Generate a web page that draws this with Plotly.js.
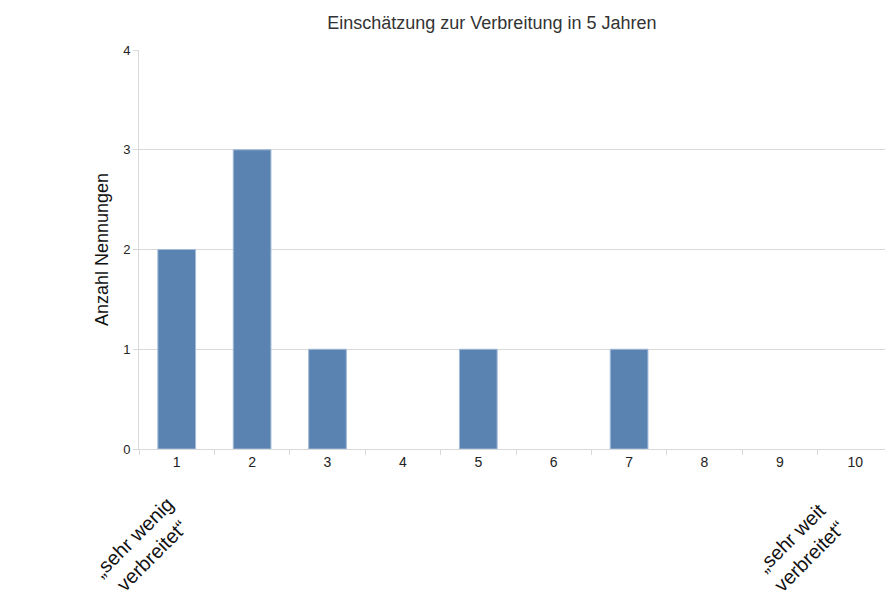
<!DOCTYPE html>
<html>
<head>
<meta charset="utf-8">
<script src="https://cdn.plot.ly/plotly-3.0.1.min.js"></script>
<style>
html,body{margin:0;padding:0;overflow:hidden;background:#fff;}
#chart{width:900px;height:597px;}
</style>
</head>
<body>
<div id="chart"></div>
<script>
const categories = ["1","2","3","4","5","6","7","8","9","10"];
const counts = [2,3,1,0,1,0,1,0,0,0];
const chartTitle = "Einschätzung zur Verbreitung in 5 Jahren";
const yTitle = "Anzahl Nennungen";
const lowLabel = "„sehr wenig<br>verbreitet“";
const highLabel = "„sehr weit<br>verbreitet“";

const font = "Liberation Sans, Arial, sans-serif";

const trace = {
  type: "bar",
  x: categories,
  y: counts,
  width: 0.5,
  marker: {color: "#5b83b1", line: {color: "#a3bbd8", width: counts.map(v => v > 0 ? 1 : 0)}},
  hoverinfo: "skip"
};

const layout = {
  width: 900,
  height: 597,
  margin: {l: 139, r: 7, t: 50, b: 148},
  paper_bgcolor: "#fff",
  plot_bgcolor: "#fff",
  showlegend: false,
  font: {family: font, color: "#222", size: 13},
  title: {
    text: chartTitle,
    font: {family: font, size: 18, color: "#333"},
    x: 0.468, xref: "paper", xanchor: "center",
    y: 0.962, yref: "container", yanchor: "middle"
  },
  xaxis: {
    type: "category",
    range: [-0.5, 9.5],
    tickson: "boundaries",
    ticks: "outside",
    ticklen: 5,
    tickcolor: "#d9d9d9",
    showgrid: false,
    showline: true,
    linecolor: "#d9d9d9",
    linewidth: 1,
    tickfont: {size: 14, color: "#222"},
    fixedrange: true
  },
  yaxis: {
    range: [0, 4],
    dtick: 1,
    ticks: "outside",
    ticklen: 5,
    tickcolor: "#d9d9d9",
    showgrid: true,
    gridcolor: "#d9d9d9",
    gridwidth: 1,
    zeroline: false,
    showline: true,
    linecolor: "#d9d9d9",
    linewidth: 1,
    tickfont: {size: 13, color: "#222"},
    title: {text: yTitle, font: {family: font, size: 18, color: "#111"}, standoff: 9},
    fixedrange: true
  },
  annotations: [
    {text: lowLabel, xref: "paper", yref: "paper", x: 0.004, y: -0.245,
     showarrow: false, textangle: -45, font: {family: font, size: 20, color: "#111"},
     xanchor: "center", yanchor: "middle"},
    {text: highLabel, xref: "paper", yref: "paper", x: 0.877, y: -0.245,
     showarrow: false, textangle: -45, font: {family: font, size: 20, color: "#111"},
     xanchor: "center", yanchor: "middle"}
  ]
};

Plotly.newPlot("chart", [trace], layout, {displayModeBar: false, staticPlot: true});
</script>
</body>
</html>
